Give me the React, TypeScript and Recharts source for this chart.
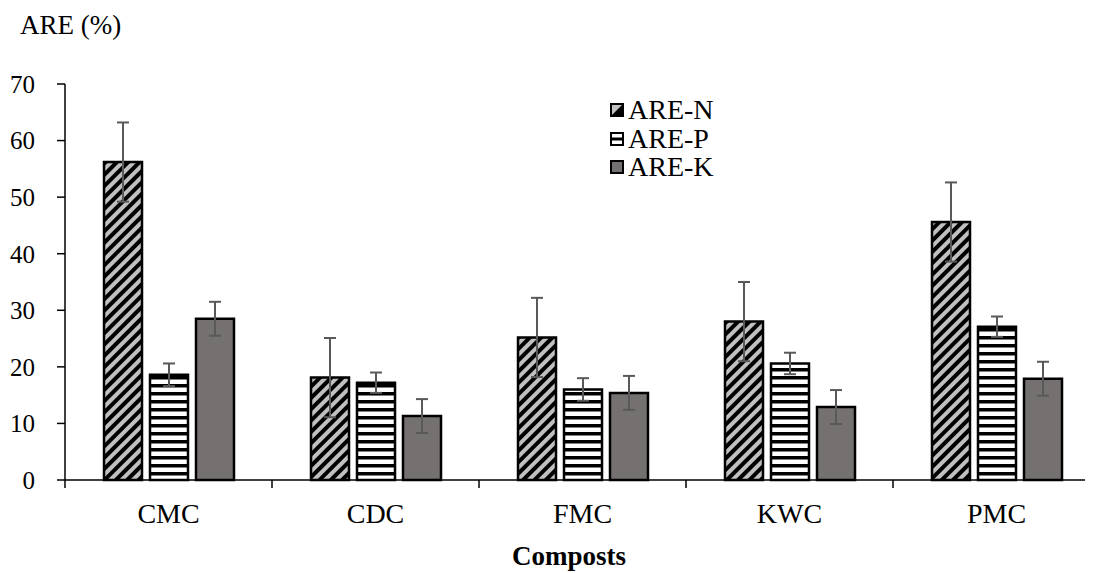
import { BarChart, Bar, XAxis, YAxis, ErrorBar, Legend } from 'recharts'

const categories = ['CMC', 'CDC', 'FMC', 'KWC', 'PMC']
const areN = [56.2, 18.1, 25.2, 28.0, 45.6]
const areP = [18.6, 17.2, 16.0, 20.6, 27.1]
const areK = [28.5, 11.3, 15.4, 12.9, 17.9]
const errN = [7, 7, 7, 7, 7]
const errP = [2, 1.8, 2, 1.9, 1.8]
const errK = [3, 3, 3, 3, 3]
const yTicks = [0, 10, 20, 30, 40, 50, 60, 70]

const data = categories.map((name, i) => ({
  name,
  n: areN[i],
  p: areP[i],
  k: areK[i],
  nErr: errN[i],
  pErr: errP[i],
  kErr: errK[i],
}))

const FONT = 'Liberation Serif, DejaVu Serif, serif'
const CHART_W = 1092
const CHART_H = 565
const Y_AXIS_W = 57
const GREY_N = '#c0c0c0'
const GREY_K = '#767171'
const ERR = '#595959'

const bandHalf = (CHART_W - Y_AXIS_W) / categories.length / 2

function CategoryTick(props: any) {
  const { x, y, payload } = props
  const half = payload && typeof payload.offset === 'number' && payload.offset > 0 ? payload.offset : bandHalf
  return (
    <g>
      <line x1={x - half} x2={x - half} y1={y} y2={y + 8} stroke="#000" strokeWidth={1.5} />
      <text x={x} y={y + 43} textAnchor="middle" fontFamily={FONT} fontSize={28} fill="#000">
        {payload.value}
      </text>
    </g>
  )
}

function LegendIcon({ kind }: { kind: string }) {
  return (
    <svg width={14} height={14} style={{ marginRight: 4, flex: 'none' }}>
      {kind === 'n' && (
        <>
          <rect x={1} y={1} width={12} height={12} fill={GREY_N} />
          <polygon points="13,1 13,13 1,13" fill="#000" />
        </>
      )}
      {kind === 'p' && (
        <>
          <rect x={1} y={1} width={12} height={12} fill="#fff" />
          <rect x={1} y={5.5} width={12} height={3} fill="#000" />
        </>
      )}
      {kind === 'k' && <rect x={1} y={1} width={12} height={12} fill={GREY_K} />}
      <rect x={1} y={1} width={12} height={12} fill="none" stroke="#000" strokeWidth={2} />
    </svg>
  )
}

const legendItems = [
  { kind: 'n', label: 'ARE-N' },
  { kind: 'p', label: 'ARE-P' },
  { kind: 'k', label: 'ARE-K' },
]

function renderLegend() {
  return (
    <div style={{ fontFamily: FONT, fontSize: 28, lineHeight: '28.5px', color: '#000' }}>
      {legendItems.map((it) => (
        <div key={it.kind} style={{ display: 'flex', alignItems: 'center' }}>
          <LegendIcon kind={it.kind} />
          <span>{it.label}</span>
        </div>
      ))}
    </div>
  )
}

export default function App() {
  return (
    <div style={{ position: 'relative', width: 1085, height: CHART_H, overflow: 'hidden', background: '#fff' }}>
      <div
        style={{
          position: 'absolute',
          left: 12,
          top: 4,
          fontFamily: FONT,
          fontSize: 27,
          lineHeight: '27px',
          whiteSpace: 'nowrap',
        }}
      >
        ARE (%)
      </div>
      <BarChart
        width={CHART_W}
        height={CHART_H}
        data={data}
        margin={{ top: 76, right: 0, left: 0, bottom: 0 }}
        barSize={38}
        barGap={8}
      >
        <defs>
          <pattern id="diagN" patternUnits="userSpaceOnUse" width={8} height={8} patternTransform="rotate(45)">
            <rect x={0} y={0} width={8} height={8} fill={GREY_N} />
            <rect x={0} y={0} width={4} height={8} fill="#000" />
          </pattern>
          <pattern id="horizP" patternUnits="userSpaceOnUse" width={8} height={8}>
            <rect x={0} y={0} width={8} height={8} fill="#fff" />
            <rect x={0} y={0} width={8} height={3.5} fill="#000" />
          </pattern>
        </defs>
        <XAxis
          dataKey="name"
          height={CHART_H - 76 - 396}
          tickLine={false}
          tickSize={0}
          tickMargin={0}
          axisLine={{ stroke: '#000', strokeWidth: 1.5 }}
          tick={<CategoryTick />}
          padding={{ left: 0, right: 0 }}
          interval={0}
        />
        <YAxis
          width={Y_AXIS_W}
          domain={[0, 70]}
          ticks={yTicks}
          interval={0}
          tickSize={8}
          tickMargin={22}
          axisLine={{ stroke: '#000', strokeWidth: 1.5 }}
          tickLine={{ stroke: '#000', strokeWidth: 1.5 }}
          tick={{ fill: '#000', fontSize: 25, fontFamily: FONT }}
        />
        <Legend
          content={renderLegend}
          layout="vertical"
          align="center"
          verticalAlign="middle"
          wrapperStyle={{ top: 88, left: 602, width: 'auto', height: 'auto' }}
        />
        <Bar dataKey="n" name="ARE-N" fill="url(#diagN)" stroke="#000" strokeWidth={2.5} isAnimationActive={false}>
          <ErrorBar dataKey="nErr" direction="y" width={6} stroke={ERR} strokeWidth={2} isAnimationActive={false} />
        </Bar>
        <Bar dataKey="p" name="ARE-P" fill="url(#horizP)" stroke="#000" strokeWidth={2.5} isAnimationActive={false}>
          <ErrorBar dataKey="pErr" direction="y" width={6} stroke={ERR} strokeWidth={2} isAnimationActive={false} />
        </Bar>
        <Bar dataKey="k" name="ARE-K" fill={GREY_K} stroke="#000" strokeWidth={2.5} isAnimationActive={false}>
          <ErrorBar dataKey="kErr" direction="y" width={6} stroke={ERR} strokeWidth={2} isAnimationActive={false} />
        </Bar>
      </BarChart>
      <div
        style={{
          position: 'absolute',
          left: 411,
          width: 300,
          top: 535,
          textAlign: 'center',
          fontFamily: FONT,
          fontSize: 27,
          fontWeight: 'bold',
          lineHeight: '27px',
          whiteSpace: 'nowrap',
        }}
      >
        Composts
      </div>
    </div>
  )
}
